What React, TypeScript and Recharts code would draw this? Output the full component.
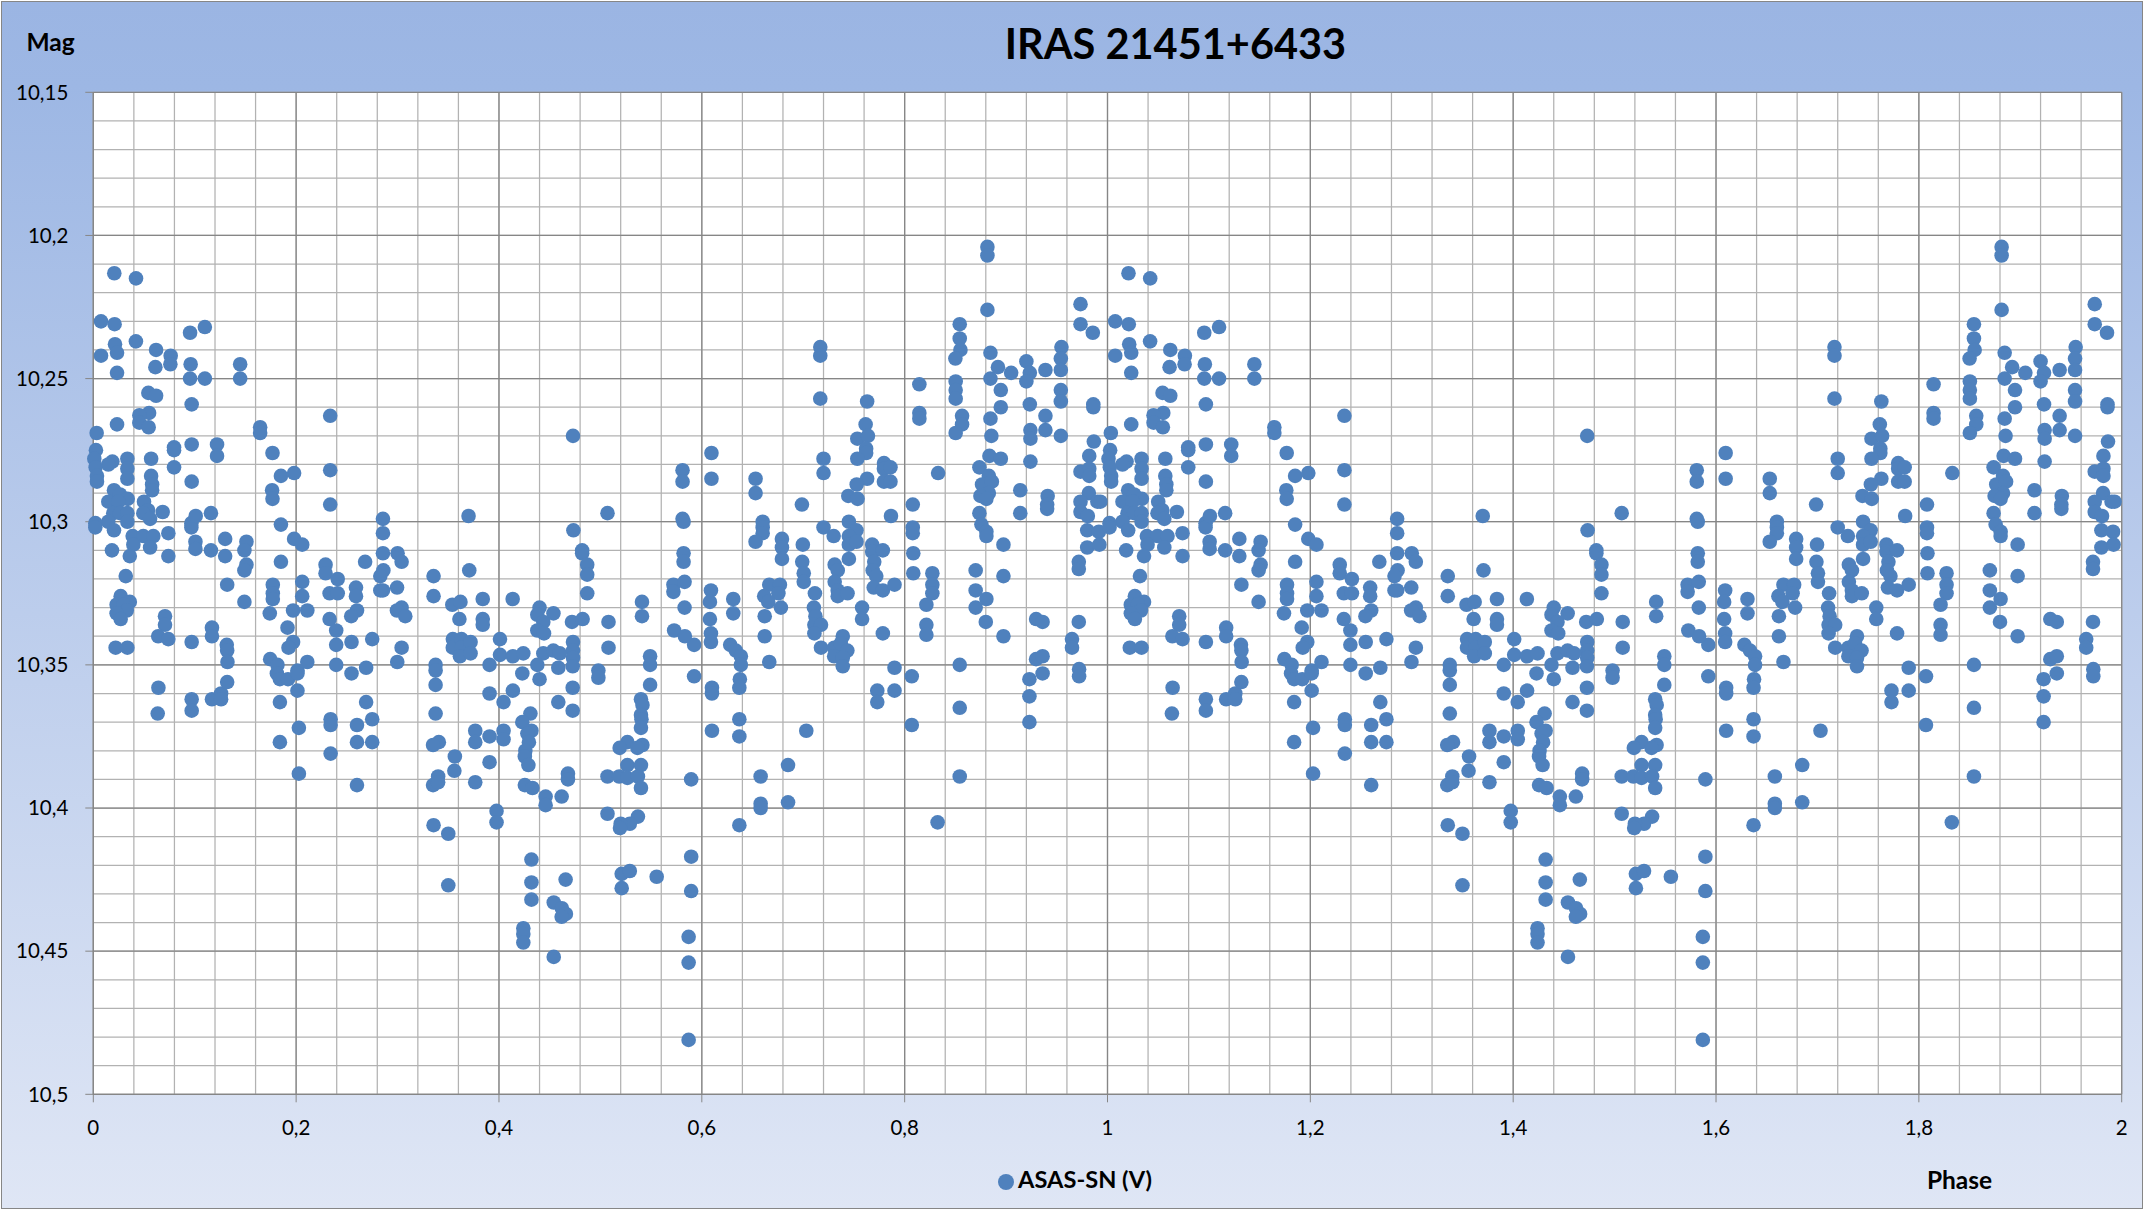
import { CartesianGrid, Legend, Scatter, ScatterChart, XAxis, YAxis } from 'recharts';

// [phase, magnitude], grouped by phase range
const phase00to10 = [
  [.0207,10.2132],[.0421,10.215],[.0076,10.23],[.021,10.231],[.0954,10.234],[.042,10.237],[.0214,10.238],[.0619,10.24],[.0234,10.241],[.0076,10.242],
  [.0763,10.242],[.076,10.245],[.0612,10.246],[.096,10.245],[.0234,10.248],[.0954,10.25],[.0543,10.255],[.0619,10.256],[.097,10.259],[.055,10.262],
  [.0454,10.2628],[.0454,10.2654],[.0234,10.266],[.0546,10.267],[.0033,10.269],[.0026,10.275],[.097,10.273],[.0796,10.274],[.0796,10.275],[.001,10.278],
  [.0336,10.278],[.057,10.278],[.0188,10.279],[.0148,10.28],[.0023,10.281],[.0796,10.281],[.0336,10.2815],[.0036,10.284],[.057,10.284],[.0336,10.285],
  [.0036,10.286],[.097,10.286],[.058,10.287],[.058,10.289],[.0204,10.289],[.0263,10.2905],[.0339,10.292],[.0148,10.293],[.0247,10.293],[.05,10.293],
  [.054,10.296],[.0493,10.297],[.0684,10.2966],[.0197,10.297],[.0263,10.297],[.0336,10.297],[.056,10.299],[.0336,10.3],[.0148,10.3],[.002,10.3005],
  [.0967,10.3005],[.002,10.302],[.0967,10.302],[.0204,10.303],[.074,10.304],[.0388,10.305],[.0493,10.305],[.0592,10.305],[.0395,10.308],[.056,10.309],
  [.0184,10.31],[.036,10.312],[.074,10.312],[.032,10.319],[.027,10.326],[.036,10.328],[.023,10.329],[.03,10.329],[.033,10.331],[.023,10.332],
  [.027,10.334],[.0707,10.333],[.0707,10.336],[.064,10.34],[.074,10.341],[.097,10.342],[.022,10.344],[.0336,10.344],[.0642,10.358],[.0635,10.367],
  [.097,10.362],[.097,10.366],
];

const phase10to20 = [
  [.11,10.232],[.11,10.25],[.1448,10.245],[.1448,10.25],[.1645,10.267],[.1645,10.269],[.101,10.298],[.116,10.297],[.122,10.273],[.122,10.277],
  [.1767,10.276],[.185,10.284],[.198,10.283],[.1763,10.289],[.1767,10.292],[.185,10.301],[.1007,10.307],[.1007,10.3095],[.116,10.31],[.13,10.306],
  [.13,10.312],[.151,10.307],[.149,10.31],[.151,10.315],[.149,10.317],[.198,10.306],[.185,10.314],[.132,10.322],[.177,10.322],[.177,10.325],
  [.177,10.327],[.149,10.328],[.197,10.331],[.174,10.332],[.117,10.337],[.117,10.34],[.1915,10.337],[.1316,10.343],[.132,10.345],[.1323,10.349],
  [.197,10.342],[.1925,10.344],[.1744,10.348],[.1816,10.35],[.181,10.353],[.184,10.355],[.192,10.355],[.117,10.362],[.126,10.36],[.126,10.362],
  [.132,10.356],[.184,10.363],[.184,10.377],
];

const phase20to33 = [
  [.2336,10.263],[.2336,10.282],[.2336,10.294],[.2856,10.299],[.2856,10.304],[.206,10.308],[.229,10.315],[.229,10.318],[.241,10.32],[.268,10.314],
  [.2856,10.311],[.3,10.311],[.304,10.314],[.286,10.317],[.283,10.319],[.206,10.321],[.206,10.326],[.2856,10.324],[.283,10.324],[.2995,10.323],
  [.259,10.323],[.259,10.326],[.233,10.325],[.241,10.325],[.211,10.331],[.233,10.334],[.2395,10.338],[.26,10.331],[.2543,10.333],[.304,10.33],
  [.2994,10.331],[.3076,10.333],[.275,10.341],[.2546,10.342],[.2395,10.343],[.304,10.344],[.2997,10.349],[.211,10.349],[.2013,10.352],[.2013,10.353],
  [.2013,10.359],[.2027,10.372],[.2027,10.388],[.2395,10.35],[.2546,10.353],[.269,10.351],[.269,10.363],[.234,10.369],[.234,10.371],[.26,10.371],
  [.275,10.369],[.26,10.377],[.275,10.377],[.234,10.381],[.26,10.392],
];

const phase33to50 = [
  [.3355,10.319],[.3355,10.326],[.354,10.329],[.362,10.328],[.37,10.298],[.3707,10.317],[.384,10.327],[.4135,10.327],[.44,10.33],[.4378,10.3325],
  [.4537,10.332],[.361,10.334],[.384,10.334],[.384,10.336],[.4437,10.335],[.4378,10.338],[.4444,10.339],[.472,10.335],[.4825,10.334],[.3545,10.341],
  [.3545,10.344],[.363,10.341],[.363,10.344],[.372,10.342],[.3615,10.347],[.372,10.346],[.401,10.341],[.401,10.3465],[.3907,10.35],[.4137,10.347],
  [.424,10.346],[.473,10.27],[.4734,10.303],[.482,10.31],[.482,10.311],[.487,10.315],[.487,10.3185],[.487,10.325],[.473,10.342],[.473,10.345],
  [.473,10.3475],[.4727,10.3505],[.4437,10.346],[.4536,10.345],[.46,10.346],[.4378,10.35],[.4585,10.351],[.423,10.353],[.44,10.355],[.498,10.352],
  [.498,10.3545],[.3375,10.35],[.3375,10.352],[.3375,10.357],[.4137,10.359],[.3907,10.36],[.4727,10.358],[.4045,10.363],[.4585,10.363],[.4727,10.366],
  [.3375,10.367],[.431,10.367],[.423,10.37],[.432,10.373],[.428,10.374],[.4295,10.377],[.426,10.38],[.4255,10.382],[.429,10.385],[.3766,10.373],
  [.3766,10.377],[.3907,10.375],[.4045,10.373],[.4045,10.376],[.3407,10.377],[.335,10.378],[.3565,10.382],[.356,10.387],[.3907,10.384],[.34,10.389],
  [.335,10.392],[.34,10.391],[.3766,10.391],[.468,10.388],[.468,10.39],[.4255,10.392],[.433,10.393],[.446,10.396],[.446,10.399],[.4618,10.396],
  [.3976,10.401],[.3976,10.405],[.3355,10.406],[.35,10.409],[.432,10.418],[.432,10.426],[.432,10.432],[.35,10.427],[.4657,10.425],[.454,10.433],
  [.462,10.435],[.466,10.437],[.4618,10.438],[.424,10.442],[.424,10.444],[.424,10.447],[.454,10.452],
];

const phase50to70 = [
  [.507,10.297],[.581,10.299],[.582,10.3],[.508,10.335],[.508,10.344],[.541,10.328],[.541,10.333],[.549,10.347],[.549,10.35],[.549,10.357],
  [.54,10.362],[.5415,10.364],[.54,10.3675],[.5405,10.369],[.54,10.372],[.5266,10.377],[.519,10.379],[.5414,10.378],[.5365,10.379],[.5266,10.385],
  [.54,10.385],[.507,10.389],[.5185,10.389],[.5266,10.3895],[.537,10.389],[.54,10.393],[.507,10.402],[.537,10.403],[.529,10.4055],[.52,10.4055],
  [.5193,10.407],[.521,10.423],[.529,10.422],[.521,10.428],[.5555,10.424],[.5895,10.39],[.5895,10.417],[.5895,10.429],[.587,10.445],[.587,10.454],
  [.587,10.481],[.5924,10.343],[.5924,10.354],[.582,10.311],[.582,10.314],[.572,10.322],[.572,10.3245],[.583,10.321],[.583,10.33],[.5727,10.338],
  [.5833,10.34],[.581,10.282],[.581,10.286],[.6095,10.276],[.6095,10.285],[.609,10.324],[.608,10.328],[.608,10.334],[.609,10.339],[.609,10.342],
  [.631,10.327],[.631,10.332],[.628,10.343],[.6335,10.345],[.6385,10.347],[.6385,10.35],[.6375,10.355],[.637,10.358],[.61,10.358],[.61,10.36],
  [.637,10.369],[.637,10.375],[.61,10.373],[.637,10.406],[.658,10.389],[.658,10.3985],[.658,10.4],[.685,10.385],[.685,10.398],[.653,10.285],
  [.653,10.29],[.66,10.3],[.66,10.302],[.66,10.304],[.653,10.307],[.679,10.306],[.679,10.309],[.679,10.313],[.6987,10.294],[.6996,10.308],
  [.699,10.314],[.6665,10.322],[.677,10.322],[.6615,10.326],[.6755,10.325],[.6655,10.328],[.678,10.33],[.662,10.333],[.662,10.34],[.6665,10.349],
];

const phase70to85 = [
  [.7005,10.318],[.7005,10.321],[.703,10.373],[.7115,10.325],[.7105,10.33],[.712,10.333],[.711,10.336],[.7175,10.336],[.711,10.339],[.7175,10.344],
  [.72,10.302],[.73,10.305],[.745,10.3],[.7525,10.303],[.745,10.305],[.745,10.308],[.7525,10.307],[.745,10.313],[.731,10.315],[.734,10.317],
  [.731,10.321],[.734,10.324],[.734,10.326],[.7437,10.325],[.758,10.33],[.758,10.334],[.768,10.308],[.768,10.3105],[.7785,10.31],[.77,10.314],
  [.7685,10.317],[.772,10.319],[.7695,10.323],[.7785,10.324],[.79,10.322],[.7865,10.298],[.808,10.294],[.808,10.302],[.808,10.304],[.8085,10.311],
  [.8085,10.318],[.7785,10.339],[.739,10.34],[.7305,10.344],[.737,10.3425],[.7435,10.345],[.7305,10.347],[.739,10.3475],[.739,10.3505],[.79,10.351],
  [.807,10.354],[.773,10.359],[.773,10.363],[.79,10.359],[.807,10.371],[.7168,10.239],[.7168,10.242],[.7168,10.257],[.763,10.258],[.7615,10.266],
  [.7533,10.271],[.7638,10.27],[.762,10.2745],[.762,10.276],[.7533,10.278],[.72,10.278],[.72,10.283],[.7796,10.2795],[.7796,10.2815],[.786,10.281],
  [.7796,10.286],[.786,10.286],[.763,10.285],[.7527,10.287],[.7444,10.291],[.7536,10.292],[.8145,10.252],[.8145,10.262],[.8145,10.264],[.8273,10.318],
  [.8273,10.322],[.8273,10.325],[.8214,10.329],[.8214,10.336],[.8214,10.3395],[.833,10.283],[.8325,10.405],
];

const phase85to100 = [
  [.8816,10.204],[.8816,10.207],[.8816,10.226],[.8543,10.231],[.8543,10.236],[.855,10.24],[.85,10.243],[.8846,10.241],[.8503,10.251],[.8503,10.254],
  [.8503,10.257],[.8566,10.263],[.8566,10.266],[.8503,10.269],[.9734,10.224],[.9734,10.231],[.9855,10.234],[.9546,10.239],[.954,10.243],[.954,10.247],
  [.9388,10.247],[.92,10.244],[.9234,10.248],[.92,10.251],[.892,10.246],[.905,10.248],[.8846,10.25],[.8948,10.254],[.8948,10.26],[.8846,10.264],
  [.8855,10.27],[.9234,10.259],[.954,10.254],[.954,10.258],[.9388,10.263],[.9388,10.268],[.924,10.268],[.924,10.271],[.954,10.27],[.986,10.259],
  [.986,10.26],[.9865,10.272],[.8836,10.277],[.8948,10.278],[.924,10.279],[.982,10.277],[.9734,10.2825],[.982,10.2815],[.982,10.284],[.8737,10.281],
  [.883,10.284],[.8763,10.287],[.886,10.286],[.883,10.29],[.8747,10.291],[.8806,10.292],[.8737,10.297],[.8757,10.301],[.8806,10.3035],[.8806,10.305],
  [.914,10.289],[.914,10.297],[.941,10.291],[.9405,10.294],[.9405,10.2955],[.87,10.317],[.87,10.324],[.87,10.33],[.8806,10.327],[.88,10.335],
  [.8974,10.308],[.8974,10.319],[.8974,10.34],[.9816,10.29],[.9734,10.293],[.99,10.293],[.993,10.293],[.9734,10.2966],[.9806,10.298],[.98,10.303],
  [.9915,10.3035],[.98,10.309],[.992,10.308],[.9717,10.314],[.9717,10.3165],[.9296,10.334],[.936,10.335],[.9717,10.335],[.965,10.341],[.965,10.344],
  [.8543,10.35],[.8543,10.365],[.8543,10.389],[.9296,10.348],[.936,10.347],[.936,10.353],[.923,10.355],[.923,10.361],[.923,10.37],[.972,10.3515],
  [.972,10.354],
];

const xTicks = [0, 0.2, 0.4, 0.6, 0.8, 1, 1.2, 1.4, 1.6, 1.8, 2];
const yTicks = [10.15, 10.2, 10.25, 10.3, 10.35, 10.4, 10.45, 10.5];

// minor gridlines: 5 per major on x, 5 per major on y
const xMinor = Array.from({ length: 51 }, (_, i) => i * 0.04);
const yMinor = Array.from({ length: 36 }, (_, i) => 10.15 + i * 0.01);

const firstCycle = [
  ...phase00to10, ...phase10to20, ...phase20to33, ...phase33to50,
  ...phase50to70, ...phase70to85, ...phase85to100,
];

// the curve is folded and plotted twice, phase 1-2 repeats phase 0-1
const points = [
  ...firstCycle.map(([phase, mag]) => ({ phase, mag })),
  ...firstCycle.map(([phase, mag]) => ({ phase: phase + 1, mag })),
];

const FONT = 'Lato, sans-serif';
const DOT = '#4F81BD';
const GRID_MAJOR = '#868686';
const GRID_MINOR = '#B2B2B2';

const comma = (v: number) => String(v).replace('.', ',');

export default function App() {
  return (
    <div style={{ position: 'absolute', left: 0, top: 0, width: 2144, height: 1210, background: '#fff' }}>
      <div
        style={{
          position: 'absolute',
          left: 1,
          top: 1,
          width: 2142,
          height: 1208,
          boxSizing: 'border-box',
          border: '1.5px solid #868686',
          background: 'linear-gradient(180deg, #9BB5E3 0%, #9DB7E4 7%, #DFE6F5 100%)',
        }}
      />
      <ScatterChart
        width={2144}
        height={1210}
        margin={{ top: 92.3, right: 22.3, bottom: 55.7, left: 13.3 }}
        style={{ position: 'absolute', left: 0, top: 0 }}
      >
        <CartesianGrid fill="#fff" stroke={GRID_MINOR} strokeWidth={1.25} horizontalValues={yMinor} verticalValues={xMinor} />
        <CartesianGrid stroke={GRID_MAJOR} strokeWidth={1.25} fillOpacity={0} horizontalValues={yTicks} verticalValues={xTicks} />
        <XAxis
          type="number"
          dataKey="phase"
          domain={[0, 2]}
          ticks={xTicks}
          interval={0}
          height={60}
          tickFormatter={comma}
          tickSize={8}
          tickMargin={18}
          stroke={GRID_MAJOR}
          tick={{ fill: '#000', fontFamily: FONT, fontSize: 20.5 }}
        />
        <YAxis
          type="number"
          dataKey="mag"
          reversed
          domain={[10.15, 10.5]}
          ticks={yTicks}
          interval={0}
          width={80}
          tickFormatter={comma}
          tickSize={8}
          tickMargin={17}
          stroke={GRID_MAJOR}
          tick={{ fill: '#000', fontFamily: FONT, fontSize: 20.5 }}
        />
        <Legend
          verticalAlign="middle"
          layout="horizontal"
          iconType="circle"
          iconSize={16}
          wrapperStyle={{ left: 995, top: 1165, width: 170, fontFamily: FONT, fontSize: 23.6, fontWeight: 700 }}
          formatter={(v) => <span style={{ color: '#000' }}>{v}</span>}
        />
        <Scatter
          name="ASAS-SN (V)"
          data={points}
          fill={DOT}
          isAnimationActive={false}
          shape={(p: any) => <circle cx={p.cx} cy={p.cy} r={7.3} fill={DOT} />}
        />
        <text x={1175.5} y={43} textAnchor="middle" dominantBaseline="central" fontFamily={FONT} fontSize={41.5} fontWeight={700} fill="#000">
          IRAS 21451+6433
        </text>
        <text x={50.5} y={41} textAnchor="middle" dominantBaseline="central" fontFamily={FONT} fontSize={24.5} fontWeight={700} fill="#000">
          Mag
        </text>
        <text x={1959.5} y={1179} textAnchor="middle" dominantBaseline="central" fontFamily={FONT} fontSize={24.5} fontWeight={700} fill="#000">
          Phase
        </text>
      </ScatterChart>
    </div>
  );
}
